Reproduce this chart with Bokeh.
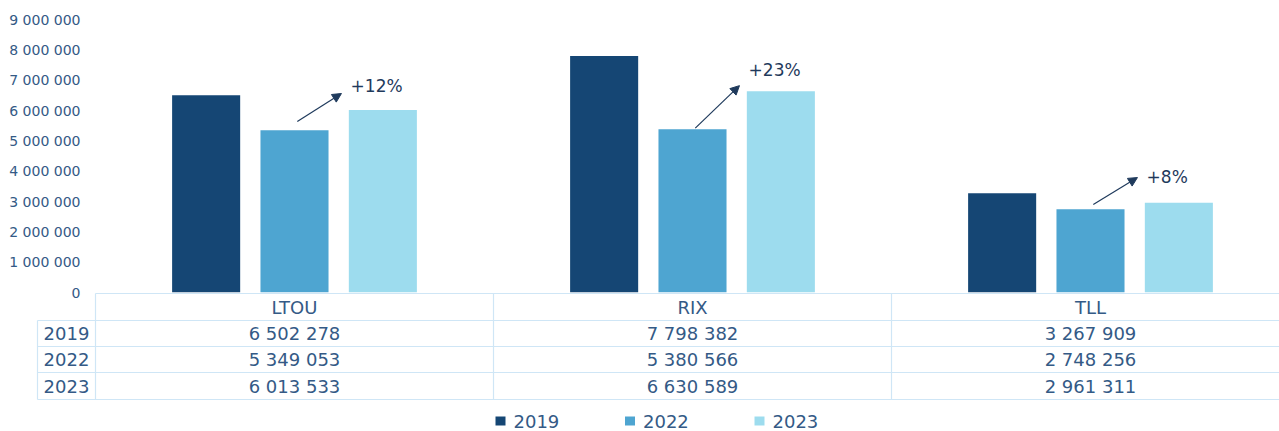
from bokeh.plotting import figure
from bokeh.models import Range1d, FixedTicker, ColumnDataSource, Arrow, NormalHead
from bokeh.embed import file_html
from bokeh.resources import INLINE
from bokeh.core.properties import value

# ---------------- data ----------------
CATEGORIES = ["LTOU", "RIX", "TLL"]
YEARS = ["2019", "2022", "2023"]
VALUES_2019 = [6502278, 7798382, 3267909]
VALUES_2022 = [5349053, 5380566, 2748256]
VALUES_2023 = [6013533, 6630589, 2961311]
Y_TICKS = [0, 1000000, 2000000, 3000000, 4000000, 5000000, 6000000, 7000000, 8000000, 9000000]
Y_TICK_LABELS = ["0", "1 000 000", "2 000 000", "3 000 000", "4 000 000",
                 "5 000 000", "6 000 000", "7 000 000", "8 000 000", "9 000 000"]

# ---------------- annotation layout (value units) ----------------
ARROW_START_Y = [5640000, 5420000, 2900000]
ARROW_END_Y = [6560000, 6820000, 3790000]
PCT_LABEL_Y = [6820000, 7320000, 3820000]

# ---------------- styles ----------------
COLORS = ["#154674", "#4EA5D1", "#9DDCEE"]
TEXT = "#345A86"
DARK = "#1F3A5C"
GRID = "#CFE6F6"
FONT = "DejaVu Sans"
OFFSETS = [-0.222, 0.0, 0.222]
BAR_W = 0.171
SERIES = [VALUES_2019, VALUES_2022, VALUES_2023]

W, H = 1279, 431
FRAME_L, FRAME_T, FRAME_B = 95, 19, 292
PX = 398.0                                   # pixels per category
Y_PER_PX = 9000000 / (FRAME_B - FRAME_T)     # value units per pixel


def vy(page_y):
    """value coordinate for a vertical pixel position below/above the frame"""
    return (FRAME_B - page_y) * Y_PER_PX


def cx(page_x):
    return (page_x - FRAME_L) / PX


p = figure(width=W, height=H, title=None,
           x_range=Range1d(0, (W - FRAME_L) / PX),
           y_range=Range1d(0, 9000000),
           output_backend="svg", toolbar_location=None,
           min_border_left=FRAME_L, min_border_right=0, min_border_top=FRAME_T,
           min_border_bottom=H - FRAME_B, x_axis_location=None)
p.outline_line_color = None
p.grid.visible = False

for i, (vals, col) in enumerate(zip(SERIES, COLORS)):
    src = ColumnDataSource(dict(x=[k + 0.5 + OFFSETS[i] for k in range(len(CATEGORIES))], top=vals))
    p.vbar(x="x", top="top", bottom=0, width=BAR_W, source=src, fill_color=col, line_color=None)

yax = p.yaxis[0]
yax.ticker = FixedTicker(ticks=Y_TICKS)
yax.major_label_overrides = {t: l for t, l in zip(Y_TICKS, Y_TICK_LABELS)}
yax.axis_line_color = None
yax.major_tick_line_color = None
yax.minor_tick_line_color = None
yax.major_tick_in = 0
yax.major_tick_out = 0
yax.major_label_standoff = 15
yax.major_label_text_font = FONT
yax.major_label_text_font_size = "14px"
yax.major_label_text_color = TEXT

# growth arrows and labels
pct = ["+{}%".format(round((b / a - 1) * 100)) for a, b in zip(VALUES_2022, VALUES_2023)]
for k in range(len(CATEGORIES)):
    p.add_layout(Arrow(end=NormalHead(size=9, fill_color=DARK, line_color=DARK, line_width=1),
                       x_start=k + 0.5 + 0.007, y_start=ARROW_START_Y[k],
                       x_end=k + 0.5 + 0.118, y_end=ARROW_END_Y[k],
                       line_color=DARK, line_width=1.2))
p.text(x=[k + 0.5 + 0.141 for k in range(len(CATEGORIES))], y=PCT_LABEL_Y, text=pct,
       text_align="left", text_baseline="middle",
       text_font=value(FONT), text_font_size="17px", text_color=DARK)

# ---------------- data table below the chart ----------------
right = cx(W + 2)
left_col = cx(37)
hdr_top, hdr_bot = vy(293), vy(320)
row_edges = [vy(320), vy(346), vy(372), vy(399)]

lines_x0 = [0] + [left_col] * 4 + [0, 1, 2, left_col]
lines_x1 = [right] + [right] * 4 + [0, 1, 2, left_col]
lines_y0 = [hdr_top] + row_edges + [hdr_top] * 3 + [row_edges[0]]
lines_y1 = [hdr_top] + row_edges + [row_edges[-1]] * 3 + [row_edges[-1]]
r = p.segment(x0=lines_x0, y0=lines_y0, x1=lines_x1, y1=lines_y1, line_color=GRID, line_width=1.2)
r.level = "annotation"

r = p.text(x=[k + 0.5 for k in range(len(CATEGORIES))], y=[(hdr_top + hdr_bot) / 2] * len(CATEGORIES),
           text=CATEGORIES, text_align="center", text_baseline="middle",
           text_font=value(FONT), text_font_size="18px", text_color=TEXT)
r.level = "annotation"

centers = [(row_edges[i] + row_edges[i + 1]) / 2 for i in range(len(YEARS))]
r = p.text(x=[left_col / 2] * len(YEARS), y=centers, text=YEARS, text_align="center",
           text_baseline="middle", text_font=value(FONT), text_font_size="18px", text_color=TEXT)
r.level = "annotation"

cells_x, cells_y, cells_t = [], [], []
for i, vals in enumerate(SERIES):
    for k, v in enumerate(vals):
        cells_x.append(k + 0.5)
        cells_y.append(centers[i])
        cells_t.append("{:,}".format(v).replace(",", " "))
r = p.text(x=cells_x, y=cells_y, text=cells_t, text_align="center", text_baseline="middle",
           text_font=value(FONT), text_font_size="18px", text_color=TEXT)
r.level = "annotation"

# ---------------- legend ----------------
LEG_STEP = 129.5
LEG_CY = 420.5
for i, (yr, col) in enumerate(zip(YEARS, COLORS)):
    x0 = 495 + i * LEG_STEP
    r = p.varea(x=[cx(x0), cx(x0 + 10)], y1=[vy(LEG_CY + 4.5)] * 2, y2=[vy(LEG_CY - 4.5)] * 2,
                fill_color=col)
    r.level = "annotation"
    r = p.text(x=[cx(x0 + 18)], y=[vy(LEG_CY)], text=[yr], text_align="left",
               text_baseline="middle", text_font=value(FONT), text_font_size="18px", text_color=TEXT)
    r.level = "annotation"

open("out.html", "w").write(file_html(p, INLINE))
